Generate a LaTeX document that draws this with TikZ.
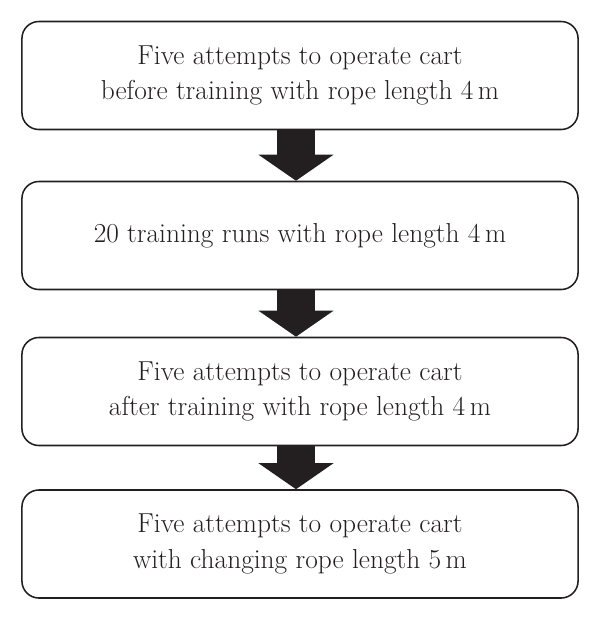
\documentclass[tikz,border=0pt]{standalone}
\usetikzlibrary{arrows.meta}
\definecolor{inkgray}{HTML}{231F20}
\tikzset{
  stagebox/.style={
    draw=inkgray,
    line width=1.1pt,
    rounded corners=0.425cm,
    minimum width=13.9cm,
    minimum height=2.7cm,
    align=center,
    text=inkgray,
    font=\fontsize{19.5}{25}\selectfont
  },
  blockarrow/.style={
    draw=inkgray,
    line width=0.925cm,
    -{Triangle[width=1.875cm, length=0.65cm, line width=0pt]}
  }
}
\begin{document}
\begin{tikzpicture}[x=0.025cm, y=-0.025cm]
  \useasboundingbox (0,0) rectangle (600,620);

  % Stages
  \node[stagebox] (before) at (300,75.5)
    {Five attempts to operate cart\\before training with rope length 4\,m};
  \node[stagebox] (runs) at (300,235.5)
    {20 training runs with rope length 4\,m};
  \node[stagebox] (after) at (300,391.5)
    {Five attempts to operate cart\\after training with rope length 4\,m};
  \node[stagebox] (change) at (300,544)
    {Five attempts to operate cart\\with changing rope length 5\,m};

  % Arrows
  \draw[blockarrow] ([xshift=-0.1cm]before.south) -- ([xshift=-0.1cm]runs.north);
  \draw[blockarrow] ([xshift=-0.1cm]runs.south) -- ([xshift=-0.1cm]after.north);
  \draw[blockarrow] ([xshift=-0.1cm]after.south) -- ([xshift=-0.1cm]change.north);
\end{tikzpicture}
\end{document}
